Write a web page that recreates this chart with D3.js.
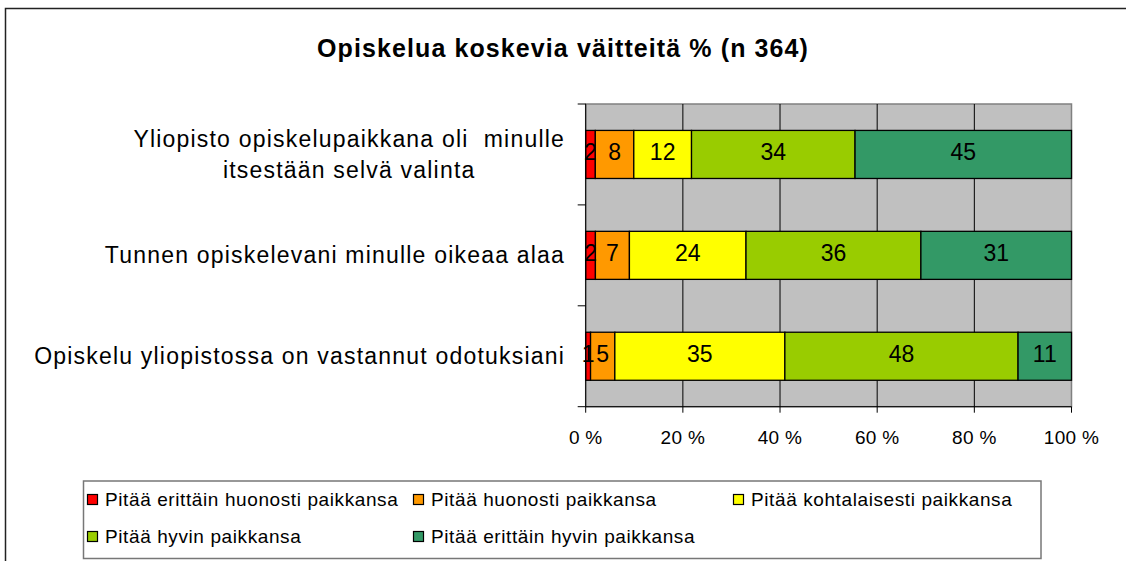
<!DOCTYPE html>
<html lang="fi">
<head>
  <meta charset="UTF-8">
  <title>Opiskelua koskevia väitteitä</title>
  <script src="https://d3js.org/d3.v7.min.js"></script>
  <style>
    body, html {
      margin: 0;
      padding: 0;
      background: #fff;
    }
    svg {
      display: block;
      font-family: "Liberation Sans", Arial, sans-serif;
    }
    .title {
      font-size: 25px;
      font-weight: bold;
      letter-spacing: 1.1px;
      text-anchor: middle;
    }
    .cat-label {
      font-size: 23px;
      letter-spacing: 1.2px;
      white-space: pre;
    }
    .tick-label {
      font-size: 19px;
      letter-spacing: 0.3px;
      text-anchor: middle;
    }
    .value-label {
      font-size: 23px;
      text-anchor: middle;
    }
    .legend text {
      font-size: 19px;
      letter-spacing: 0.6px;
    }
  </style>
</head>
<body>
  <div id="chart"></div>

  <script>
    // categories, top to bottom
    const categories = [
      "Yliopisto opiskelupaikkana oli  minulle\nitsestään selvä valinta",
      "Tunnen opiskelevani minulle oikeaa alaa",
      "Opiskelu yliopistossa on vastannut odotuksiani"
    ];

    // answer series (legend order)
    const seriesNames = [
      "Pitää erittäin huonosti paikkansa",
      "Pitää huonosti paikkansa",
      "Pitää kohtalaisesti paikkansa",
      "Pitää hyvin paikkansa",
      "Pitää erittäin hyvin paikkansa"
    ];
    const seriesColors = ["#ff0000", "#ff9900", "#ffff00", "#99cc00", "#339966"];

    // percentages per series, one value per category
    const veryPoorly = [2, 2, 1];
    const poorly = [8, 7, 5];
    const moderately = [12, 24, 35];
    const well = [34, 36, 48];
    const veryWell = [45, 31, 11];

    const tickValues = [0, 0.2, 0.4, 0.6, 0.8, 1];

    const W = 1126, H = 561;
    const plot = { left: 585.7, right: 1071.5, top: 104, bottom: 406.7 };

    const table = categories.map((c, i) => ({
      cat: c,
      [seriesNames[0]]: veryPoorly[i],
      [seriesNames[1]]: poorly[i],
      [seriesNames[2]]: moderately[i],
      [seriesNames[3]]: well[i],
      [seriesNames[4]]: veryWell[i]
    }));

    const stacked = d3.stack()
      .keys(seriesNames)
      .offset(d3.stackOffsetExpand)(table);

    const x = d3.scaleLinear().domain([0, 1]).range([plot.left, plot.right]);
    const y = d3.scaleBand()
      .domain(categories)
      .range([plot.top, plot.bottom])
      .paddingInner(1.1 / 2.1)
      .paddingOuter(1.1 / 4.2);
    const color = d3.scaleOrdinal().domain(seriesNames).range(seriesColors);

    const svg = d3.select("#chart").append("svg")
      .attr("width", W)
      .attr("height", H);

    // outer chart frame (right and bottom edges fall outside the picture)
    svg.append("path")
      .attr("d", `M5.5,${H + 5}V8.5H${W + 5}`)
      .attr("fill", "none")
      .attr("stroke", "#222")
      .attr("stroke-width", 1.5);

    svg.append("text")
      .attr("class", "title")
      .attr("x", 563)
      .attr("y", 57)
      .text("Opiskelua koskevia väitteitä % (n 364)");

    // plot background
    svg.append("rect")
      .attr("x", plot.left)
      .attr("y", plot.top)
      .attr("width", plot.right - plot.left)
      .attr("height", plot.bottom - plot.top)
      .attr("fill", "#c0c0c0")
      .attr("stroke", "#808080")
      .attr("stroke-width", 1.5);

    // vertical gridlines
    svg.append("g")
      .selectAll("line")
      .data(tickValues.slice(1, -1))
      .join("line")
      .attr("x1", d => x(d))
      .attr("x2", d => x(d))
      .attr("y1", plot.top)
      .attr("y2", plot.bottom)
      .attr("stroke", "#000")
      .attr("stroke-width", 1);

    // bars
    const groups = svg.append("g")
      .selectAll("g")
      .data(stacked)
      .join("g")
      .attr("fill", d => color(d.key));

    groups.selectAll("rect")
      .data(d => d)
      .join("rect")
      .attr("x", d => x(d[0]))
      .attr("y", d => y(d.data.cat))
      .attr("width", d => x(d[1]) - x(d[0]))
      .attr("height", y.bandwidth())
      .attr("stroke", "#000")
      .attr("stroke-width", 1.3);

    // value labels
    const labels = svg.append("g");
    stacked.forEach(s => {
      labels.selectAll(null)
        .data(s)
        .join("text")
        .attr("class", "value-label")
        .attr("x", d => (x(d[0]) + x(d[1])) / 2)
        .attr("y", d => y(d.data.cat) + y.bandwidth() / 2)
        .attr("dy", "0.25em")
        .text(d => d.data[s.key]);
    });

    // left axis
    const catTicks = [plot.top].concat(categories.map(c => y(c) + y.bandwidth() / 2 + y.step() / 2));
    svg.append("line")
      .attr("x1", plot.left).attr("x2", plot.left)
      .attr("y1", plot.top).attr("y2", plot.bottom)
      .attr("stroke", "#000");
    svg.append("g")
      .selectAll("line")
      .data(catTicks)
      .join("line")
      .attr("x1", plot.left - 8).attr("x2", plot.left)
      .attr("y1", d => d).attr("y2", d => d)
      .attr("stroke", "#000");

    // bottom axis
    svg.append("line")
      .attr("x1", plot.left).attr("x2", plot.right)
      .attr("y1", plot.bottom).attr("y2", plot.bottom)
      .attr("stroke", "#000");
    svg.append("g")
      .selectAll("line")
      .data(tickValues)
      .join("line")
      .attr("x1", d => x(d)).attr("x2", d => x(d))
      .attr("y1", plot.bottom).attr("y2", plot.bottom + 6)
      .attr("stroke", "#000");
    svg.append("g")
      .selectAll("text")
      .data(tickValues)
      .join("text")
      .attr("class", "tick-label")
      .attr("x", d => x(d))
      .attr("y", 444)
      .text(d => Math.round(d * 100) + " %");

    // category labels: block right-aligned to the axis, lines centred in the block
    const labelRight = 565;
    const lineH = 31;
    categories.forEach(c => {
      const lines = c.split("\n");
      const g = svg.append("g");
      const texts = lines.map((ln, i) => g.append("text")
        .attr("class", "cat-label")
        .attr("y", y(c) + y.bandwidth() / 2 + (i - (lines.length - 1) / 2) * lineH)
        .attr("dy", "0.35em")
        .text(ln));
      const widths = texts.map(t => t.node().getComputedTextLength());
      const maxW = d3.max(widths);
      texts.forEach((t, i) => t.attr("x", labelRight - maxW / 2 - widths[i] / 2));
    });

    // legend
    const legend = svg.append("g").attr("class", "legend");
    legend.append("rect")
      .attr("x", 83.5)
      .attr("y", 481)
      .attr("width", 1041 - 83.5)
      .attr("height", 77.5)
      .attr("fill", "#fff")
      .attr("stroke", "#777")
      .attr("stroke-width", 1.5);

    const colX = [87, 413, 733];
    const rowY = [499, 536];
    const items = legend.selectAll("g.item")
      .data(seriesNames)
      .join("g")
      .attr("class", "item")
      .attr("transform", (d, i) => `translate(${colX[i % 3]},${rowY[Math.floor(i / 3)]})`);
    items.append("rect")
      .attr("x", 0.5)
      .attr("y", -4.5)
      .attr("width", 10)
      .attr("height", 10)
      .attr("fill", d => color(d))
      .attr("stroke", "#000")
      .attr("stroke-width", 1.2);
    items.append("text")
      .attr("x", 18)
      .attr("dy", "0.35em")
      .text(d => d);
  </script>
</body>
</html>
